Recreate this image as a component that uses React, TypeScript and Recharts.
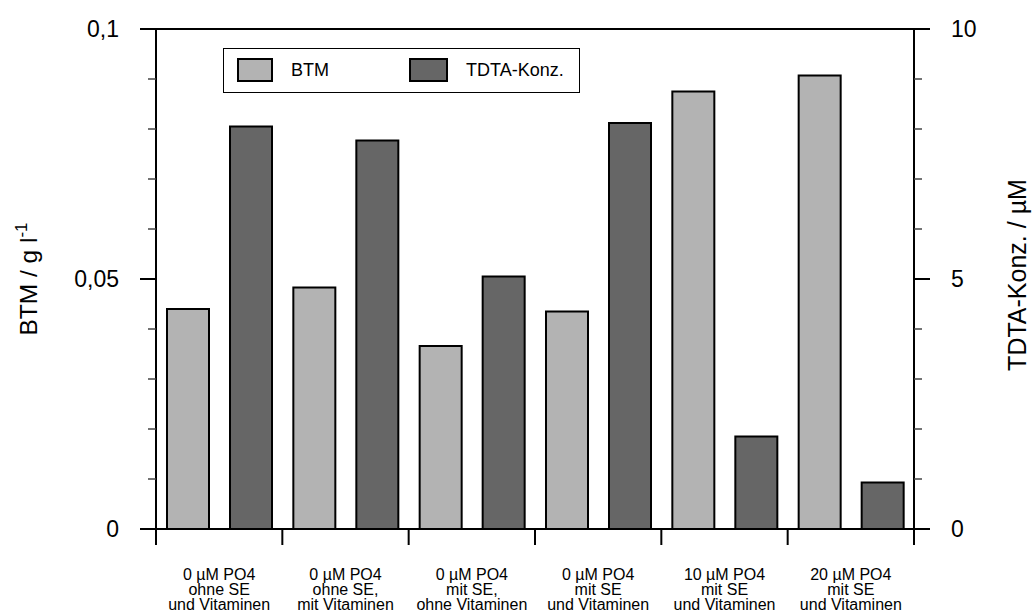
import { BarChart, Bar, XAxis, YAxis, Legend, ReferenceLine } from 'recharts';

const categories = [
  '0 µM PO4|ohne SE|und Vitaminen',
  '0 µM PO4|ohne SE,|mit Vitaminen',
  '0 µM PO4|mit SE,|ohne Vitaminen',
  '0 µM PO4|mit SE|und Vitaminen',
  '10 µM PO4|mit SE|und Vitaminen',
  '20 µM PO4|mit SE|und Vitaminen',
];
const btm = [0.044, 0.0483, 0.0366, 0.0435, 0.0875, 0.0907];
const tdta = [8.05, 7.77, 5.05, 8.12, 1.85, 0.93];

const leftTicks = [0, 0.01, 0.02, 0.03, 0.04, 0.05, 0.06, 0.07, 0.08, 0.09, 0.1];
const leftLabels: Record<string, string> = { '0': '0', '0.05': '0,05', '0.1': '0,1' };
const rightTicks = [0, 1, 2, 3, 4, 5, 6, 7, 8, 9, 10];
const rightLabels: Record<string, string> = { '0': '0', '5': '5', '10': '10' };

const data = categories.map((name, i) => ({ name, btm: btm[i], tdta: tdta[i] }));

const FONT = '"Liberation Sans", Arial, sans-serif';
const LIGHT = '#b3b3b3';
const DARK = '#666666';

function LeftTick(props: any) {
  const { x, y, payload } = props;
  const label = leftLabels[String(payload.value)];
  const len = label ? 16 : 8;
  return (
    <g>
      <line x1={x - len} y1={y} x2={x} y2={y} stroke={label ? '#000' : '#444'} strokeWidth={label ? 2 : 1.5} />
      {label && (
        <text x={x - 37} y={y + 8} textAnchor="end" fontSize={23} fontFamily={FONT} fill="#000">
          {label}
        </text>
      )}
    </g>
  );
}

function RightTick(props: any) {
  const { x, y, payload } = props;
  const label = rightLabels[String(payload.value)];
  const len = label ? 16 : 8;
  return (
    <g>
      <line x1={x} y1={y} x2={x + len} y2={y} stroke={label ? '#000' : '#444'} strokeWidth={label ? 2 : 1.5} />
      {label && (
        <text x={x + 37} y={y + 8} textAnchor="start" fontSize={23} fontFamily={FONT} fill="#000">
          {label}
        </text>
      )}
    </g>
  );
}

function CategoryTick(props: any) {
  const { x, y, payload, index } = props;
  const half = payload.offset ?? 0;
  const lines = String(payload.value).split('|');
  return (
    <g>
      <line x1={x - half} y1={y} x2={x - half} y2={y + 16} stroke="#000" strokeWidth={2} />
      {index === categories.length - 1 && (
        <line x1={x + half} y1={y} x2={x + half} y2={y + 16} stroke="#000" strokeWidth={2} />
      )}
      <text x={x} y={y + 51} textAnchor="middle" fontSize={16} fontFamily={FONT} fill="#000">
        {lines.map((l, i) => (
          <tspan key={i} x={x} dy={i === 0 ? 0 : 15}>
            {l}
          </tspan>
        ))}
      </text>
    </g>
  );
}

function LegendBox() {
  return (
    <div
      style={{
        width: 355,
        height: 43,
        border: '1.5px solid #000',
        background: '#fff',
        position: 'relative',
        fontFamily: FONT,
        fontSize: 18,
      }}
    >
      <div style={{ position: 'absolute', left: 13, top: 9, width: 36, height: 24, background: LIGHT, border: '2px solid #000', boxSizing: 'border-box' }} />
      <div style={{ position: 'absolute', left: 67, top: 9, lineHeight: '24px' }}>BTM</div>
      <div style={{ position: 'absolute', left: 185, top: 9, width: 39, height: 24, background: DARK, border: '2px solid #000', boxSizing: 'border-box' }} />
      <div style={{ position: 'absolute', left: 242, top: 9, lineHeight: '24px' }}>TDTA-Konz.</div>
    </div>
  );
}

export default function App() {
  return (
    <div style={{ position: 'absolute', left: 0, top: 0, background: '#fff' }}>
      <BarChart
        width={1034}
        height={612}
        data={data}
        margin={{ top: 29, right: 0, bottom: 0, left: 0 }}
        barSize={42}
        barGap={21}
      >
        <XAxis
          dataKey="name"
          height={83}
          axisLine={{ stroke: '#000', strokeWidth: 2 }}
          tickLine={false}
          tickSize={0}
          tickMargin={0}
          interval={0}
          tick={<CategoryTick />}
        />
        <YAxis
          yAxisId="left"
          width={156}
          domain={[0, 0.1]}
          ticks={leftTicks}
          interval={0}
          axisLine={{ stroke: '#000', strokeWidth: 2 }}
          tickLine={false}
          tickSize={0}
          tickMargin={0}
          tick={<LeftTick />}
          label={(p: any) => {
            const vb = p.viewBox;
            const cy = vb.y + vb.height / 2;
            return (
              <text x={37} y={cy} transform={`rotate(-90 37 ${cy})`} textAnchor="middle" fontSize={24.5} fontFamily={FONT} fill="#000">
                BTM / g l
                <tspan dy={-10} fontSize={17}>-1</tspan>
              </text>
            );
          }}
        />
        <YAxis
          yAxisId="right"
          orientation="right"
          width={120}
          domain={[0, 10]}
          ticks={rightTicks}
          interval={0}
          axisLine={{ stroke: '#000', strokeWidth: 2 }}
          tickLine={false}
          tickSize={0}
          tickMargin={0}
          tick={<RightTick />}
          label={(p: any) => {
            const vb = p.viewBox;
            const cy = vb.y + vb.height / 2 - 4;
            return (
              <text x={1026} y={cy} transform={`rotate(-90 1026 ${cy})`} textAnchor="middle" fontSize={25} fontFamily={FONT} fill="#000">
                TDTA-Konz. / µM
              </text>
            );
          }}
        />
        <ReferenceLine yAxisId="left" y={0.1} stroke="#000" strokeWidth={2} />
        <Legend
          layout="vertical"
          align="center"
          verticalAlign="middle"
          wrapperStyle={{ position: 'absolute', left: 223, top: 48, width: 'auto', height: 'auto' }}
          content={() => <LegendBox />}
        />
        <Bar yAxisId="left" dataKey="btm" name="BTM" fill={LIGHT} stroke="#000" strokeWidth={2} isAnimationActive={false} />
        <Bar yAxisId="right" dataKey="tdta" name="TDTA-Konz." fill={DARK} stroke="#000" strokeWidth={2} isAnimationActive={false} />
      </BarChart>
    </div>
  );
}
